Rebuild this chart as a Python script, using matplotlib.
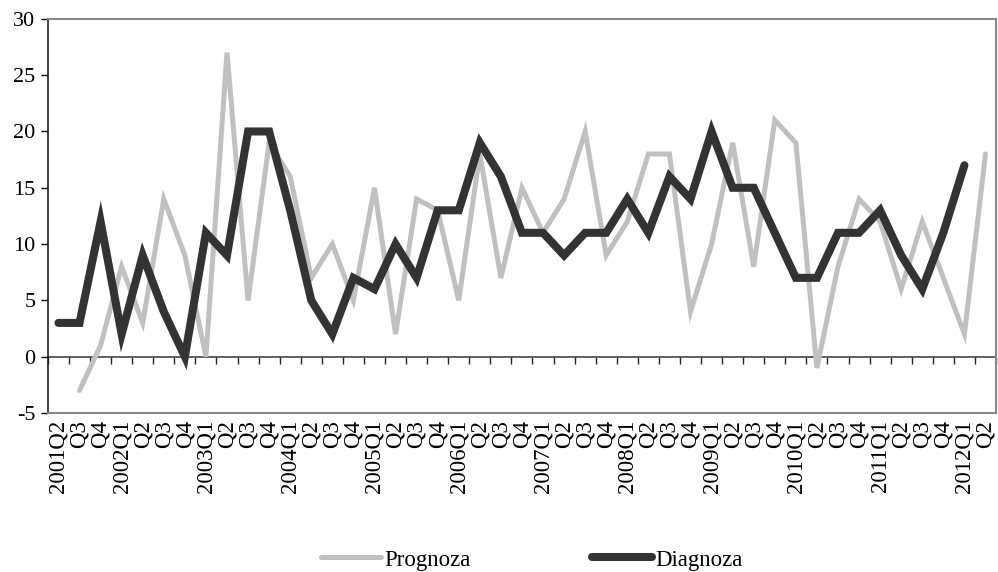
import matplotlib.pyplot as plt
import numpy as np

plt.rcParams['font.family'] = ['Liberation Serif', 'DejaVu Serif']
plt.rcParams['axes.unicode_minus'] = False

quarters = ["2001Q2", "Q3", "Q4",
            "2002Q1", "Q2", "Q3", "Q4",
            "2003Q1", "Q2", "Q3", "Q4",
            "2004Q1", "Q2", "Q3", "Q4",
            "2005Q1", "Q2", "Q3", "Q4",
            "2006Q1", "Q2", "Q3", "Q4",
            "2007Q1", "Q2", "Q3", "Q4",
            "2008Q1", "Q2", "Q3", "Q4",
            "2009Q1", "Q2", "Q3", "Q4",
            "2010Q1", "Q2", "Q3", "Q4",
            "2011Q1", "Q2", "Q3", "Q4",
            "2012Q1", "Q2"]

prognoza = [np.nan, -3, 1,
            8, 3, 14, 9,
            0, 27, 5, 19,
            16, 7, 10, 5,
            15, 2, 14, 13,
            5, 18, 7, 15,
            11, 14, 20, 9,
            12, 18, 18, 4,
            10, 19, 8, 21,
            19, -1, 8, 14,
            12, 6, 12, 7,
            2, 18]

diagnoza = [3, 3, 12,
            2, 9, 4, 0,
            11, 9, 20, 20,
            13, 5, 2, 7,
            6, 10, 7, 13,
            13, 19, 16, 11,
            11, 9, 11, 11,
            14, 11, 16, 14,
            20, 15, 15, 11,
            7, 7, 11, 11,
            13, 9, 6, 11,
            17, np.nan]

x = np.arange(len(quarters))

fig = plt.figure(figsize=(9.98, 5.72), dpi=100)
ax = fig.add_axes([0.048, 0.278, 0.950, 0.689])

ax.plot(x, prognoza, color='#c0c0c0', lw=3.6, label='Prognoza', solid_capstyle='round', solid_joinstyle='miter')
ax.plot(x, diagnoza, color='#333333', lw=5.8, label='Diagnoza', solid_capstyle='round', solid_joinstyle='miter')

ax.set_xlim(-0.5, len(quarters) - 0.5)
ax.set_ylim(-5, 30)
ax.set_yticks(np.arange(-5, 31, 5))
ax.tick_params(axis='y', direction='out', length=5, width=1, labelsize=16, pad=4)

ax.set_xticks(x)
ax.set_xticklabels(quarters, rotation=90, fontsize=16.5)
ax.tick_params(axis='x', length=0, pad=5)

for s in ['top', 'right', 'bottom']:
    ax.spines[s].set_color('#888888')
    ax.spines[s].set_linewidth(1.5)
ax.spines['left'].set_color('#222222')
ax.spines['left'].set_linewidth(1.2)

# zero line with category-boundary ticks
zero = ax.secondary_xaxis(5 / 35)
zero.set_xticks(np.arange(-0.5, len(quarters), 1.0))
zero.set_xticklabels([])
zero.tick_params(axis='x', direction='out', length=5, width=1, color='#222222')
zero.spines['bottom'].set_color('#444444')
zero.spines['bottom'].set_linewidth(1.2)

fig.legend(loc='center', bbox_to_anchor=(0.533, 0.021), ncol=2, frameon=False,
           fontsize=16.5, handlelength=2.6, handletextpad=0.15, columnspacing=5.3,
           borderpad=0)

fig.savefig('out.png', dpi=100)
